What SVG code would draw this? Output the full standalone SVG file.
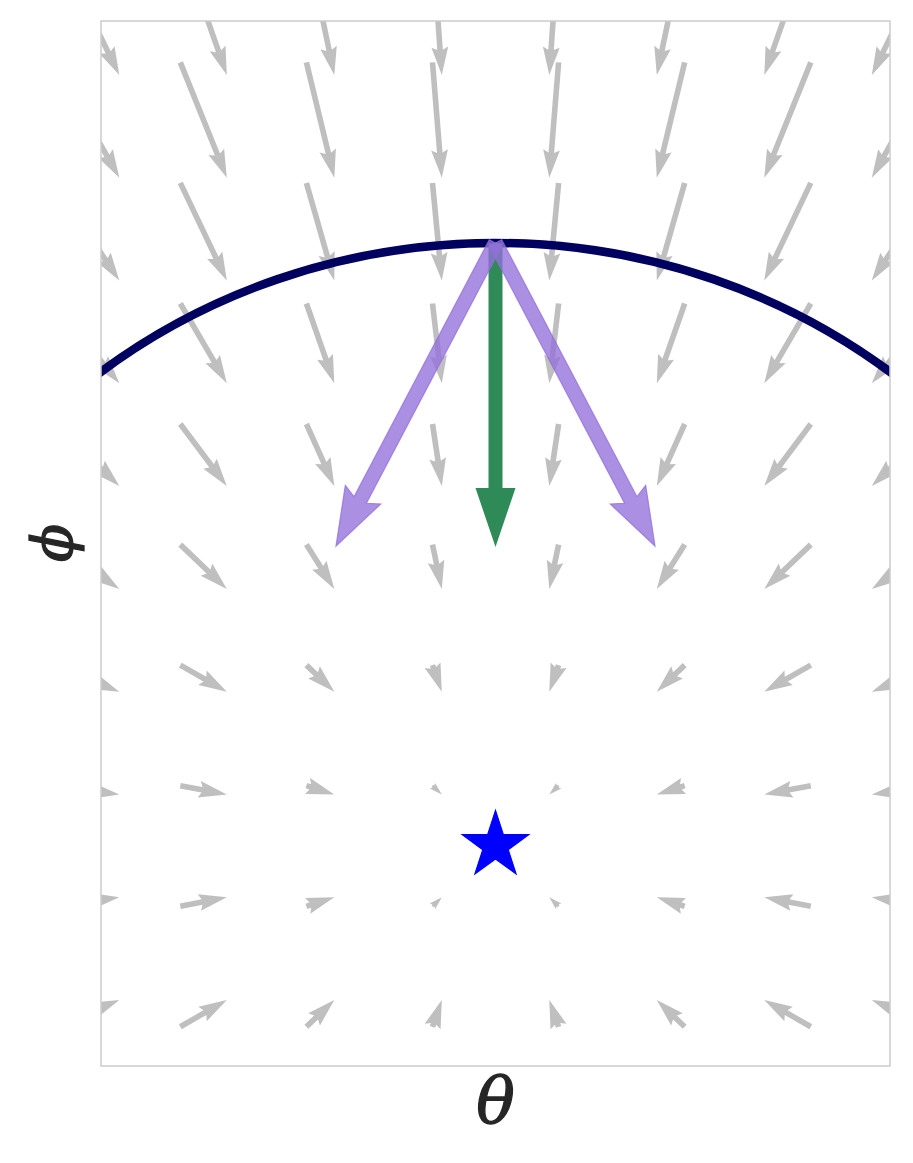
<svg xmlns="http://www.w3.org/2000/svg" width="913" height="1163" viewBox="0 0 913 1163">
<style>
.q{fill:none;stroke:#bfbfbf;stroke-width:5.6;stroke-dasharray:0 17 100000;marker-start:url(#hd)}
.qs{fill:none;stroke:none;marker-start:url(#hs)}
.lbl{font-family:"DejaVu Serif","Liberation Serif",serif;font-style:italic;fill:#262626;stroke:#262626;stroke-width:1.3}
.pur{fill:#9370DB;fill-opacity:0.78;stroke:#9370DB;stroke-opacity:0.78;stroke-width:1.2;stroke-linejoin:miter}
</style>
<defs>
<clipPath id="ax"><rect x="101" y="21" width="789" height="1045"/></clipPath>
<marker id="hd" markerUnits="userSpaceOnUse" orient="auto-start-reverse" refX="0" refY="0" markerWidth="1" markerHeight="1" style="overflow:visible"><path d="M0 0L-28 -8.4L-25.2 -2.8L-25.2 2.8L-28 8.4Z" fill="#bfbfbf"/></marker>
<marker id="hs" markerUnits="strokeWidth" orient="auto-start-reverse" refX="0" refY="0" markerWidth="1" markerHeight="1" style="overflow:visible"><path d="M-28 2.8L-25.2 2.8L-28 8.4L0 0L-28 -8.4L-25.2 -2.8L-28 -2.8Z" fill="#bfbfbf"/></marker>
</defs>
<rect width="913" height="1163" fill="#ffffff"/>
<g id="field" clip-path="url(#ax)">
<path class="q" d="M119.3 75L54.2 -58.2"/><path class="q" d="M226.8 75L180.3 -58.2"/><path class="q" d="M334.3 75L306.4 -58.2"/><path class="q" d="M441.8 75L432.5 -58.2"/><path class="q" d="M549.3 75L558.6 -58.2"/><path class="q" d="M656.8 75L684.7 -58.2"/><path class="q" d="M764.3 75L810.8 -58.2"/><path class="q" d="M871.8 75L936.9 -58.2"/>
<path class="q" d="M119.3 177.8L54.2 62.4"/><path class="q" d="M226.8 177.8L180.3 62.4"/><path class="q" d="M334.3 177.8L306.4 62.4"/><path class="q" d="M441.8 177.8L432.5 62.4"/><path class="q" d="M549.3 177.8L558.6 62.4"/><path class="q" d="M656.8 177.8L684.7 62.4"/><path class="q" d="M764.3 177.8L810.8 62.4"/><path class="q" d="M871.8 177.8L936.9 62.4"/>
<path class="q" d="M119.3 280.6L54.2 182.9"/><path class="q" d="M226.8 280.6L180.3 182.9"/><path class="q" d="M334.3 280.6L306.4 182.9"/><path class="q" d="M441.8 280.6L432.5 182.9"/><path class="q" d="M549.3 280.6L558.6 182.9"/><path class="q" d="M656.8 280.6L684.7 182.9"/><path class="q" d="M764.3 280.6L810.8 182.9"/><path class="q" d="M871.8 280.6L936.9 182.9"/>
<path class="q" d="M119.3 383.3L54.2 303.5"/><path class="q" d="M226.8 383.3L180.3 303.5"/><path class="q" d="M334.3 383.3L306.4 303.5"/><path class="q" d="M441.8 383.3L432.5 303.5"/><path class="q" d="M549.3 383.3L558.6 303.5"/><path class="q" d="M656.8 383.3L684.7 303.5"/><path class="q" d="M764.3 383.3L810.8 303.5"/><path class="q" d="M871.8 383.3L936.9 303.5"/>
<path class="q" d="M119.3 486.1L54.2 424"/><path class="q" d="M226.8 486.1L180.3 424"/><path class="q" d="M334.3 486.1L306.4 424"/><path class="q" d="M441.8 486.1L432.5 424"/><path class="q" d="M549.3 486.1L558.6 424"/><path class="q" d="M656.8 486.1L684.7 424"/><path class="q" d="M764.3 486.1L810.8 424"/><path class="q" d="M871.8 486.1L936.9 424"/>
<path class="q" d="M119.3 588.9L54.2 544.6"/><path class="q" d="M226.8 588.9L180.3 544.6"/><path class="q" d="M334.3 588.9L306.4 544.6"/><path class="q" d="M441.8 588.9L432.5 544.6"/><path class="q" d="M549.3 588.9L558.6 544.6"/><path class="q" d="M656.8 588.9L684.7 544.6"/><path class="q" d="M764.3 588.9L810.8 544.6"/><path class="q" d="M871.8 588.9L936.9 544.6"/>
<path class="q" d="M119.3 691.7L54.2 665.1"/><path class="q" d="M226.8 691.7L180.3 665.1"/><path class="q" d="M334.3 691.7L306.4 665.1"/><path class="q" d="M441.8 691.7L432.5 665.1"/><path class="q" d="M549.3 691.7L558.6 665.1"/><path class="q" d="M656.8 691.7L684.7 665.1"/><path class="q" d="M764.3 691.7L810.8 665.1"/><path class="q" d="M871.8 691.7L936.9 665.1"/>
<path class="q" d="M119.3 794.4L54.2 785.7"/><path class="q" d="M226.8 794.4L180.3 785.7"/><path class="q" d="M334.3 794.4L306.4 785.7"/><path class="qs" style="stroke-width:0.456" d="M441.8 794.4L432.5 785.7"/><path class="qs" style="stroke-width:0.456" d="M549.3 794.4L558.6 785.7"/><path class="q" d="M656.8 794.4L684.7 785.7"/><path class="q" d="M764.3 794.4L810.8 785.7"/><path class="q" d="M871.8 794.4L936.9 785.7"/>
<path class="q" d="M119.3 897.2L54.2 906.3"/><path class="q" d="M226.8 897.2L180.3 906.3"/><path class="q" d="M334.3 897.2L306.4 906.3"/><path class="qs" style="stroke-width:0.463" d="M441.8 897.2L432.5 906.3"/><path class="qs" style="stroke-width:0.463" d="M549.3 897.2L558.6 906.3"/><path class="q" d="M656.8 897.2L684.7 906.3"/><path class="q" d="M764.3 897.2L810.8 906.3"/><path class="q" d="M871.8 897.2L936.9 906.3"/>
<path class="q" d="M119.3 1000L54.2 1026.8"/><path class="q" d="M226.8 1000L180.3 1026.8"/><path class="q" d="M334.3 1000L306.4 1026.8"/><path class="q" d="M441.8 1000L432.5 1026.8"/><path class="q" d="M549.3 1000L558.6 1026.8"/><path class="q" d="M656.8 1000L684.7 1026.8"/><path class="q" d="M764.3 1000L810.8 1026.8"/><path class="q" d="M871.8 1000L936.9 1026.8"/>
</g>
<g id="arc" clip-path="url(#ax)">
<path d="M95 376.4A638 602 0 0 1 896 376.4" fill="none" stroke="#000060" stroke-width="8.5"/>
</g>
<g id="connectors">
<polygon id="green-arrow" points="488.5,243 502.5,243 502.5,488 515.5,488 495.5,547 475.5,488 488.5,488" fill="#2E8B57"/>
<polygon id="purple-left" class="pur" points="501.69,246.26 366.41,503.25 380.72,504 336,546 345.32,485.36 354.03,496.73 489.31,239.74"/>
<polygon id="purple-right" class="pur" points="489.31,246.26 624.59,503.25 610.28,504 655,546 645.68,485.36 636.97,496.73 501.69,239.74"/>
</g>
<g id="star">
<polygon points="495.5,810.5 503.38,834.66 528.79,834.68 508.24,849.64 516.07,873.82 495.5,858.9 474.93,873.82 482.76,849.64 462.21,834.68 487.62,834.66" fill="#0000ff" stroke="#0000ff" stroke-width="1.2" stroke-linejoin="miter"/>
</g>
<rect id="frame" x="101" y="21" width="789" height="1045" fill="none" stroke="#cccccc" stroke-width="1.5"/>
<g id="labels">
<text class="lbl" x="495.5" y="1122" text-anchor="middle" font-size="64">θ</text>
<text class="lbl" transform="translate(72,543) rotate(-90)" text-anchor="middle" font-size="56">ϕ</text>
</g>
</svg>
